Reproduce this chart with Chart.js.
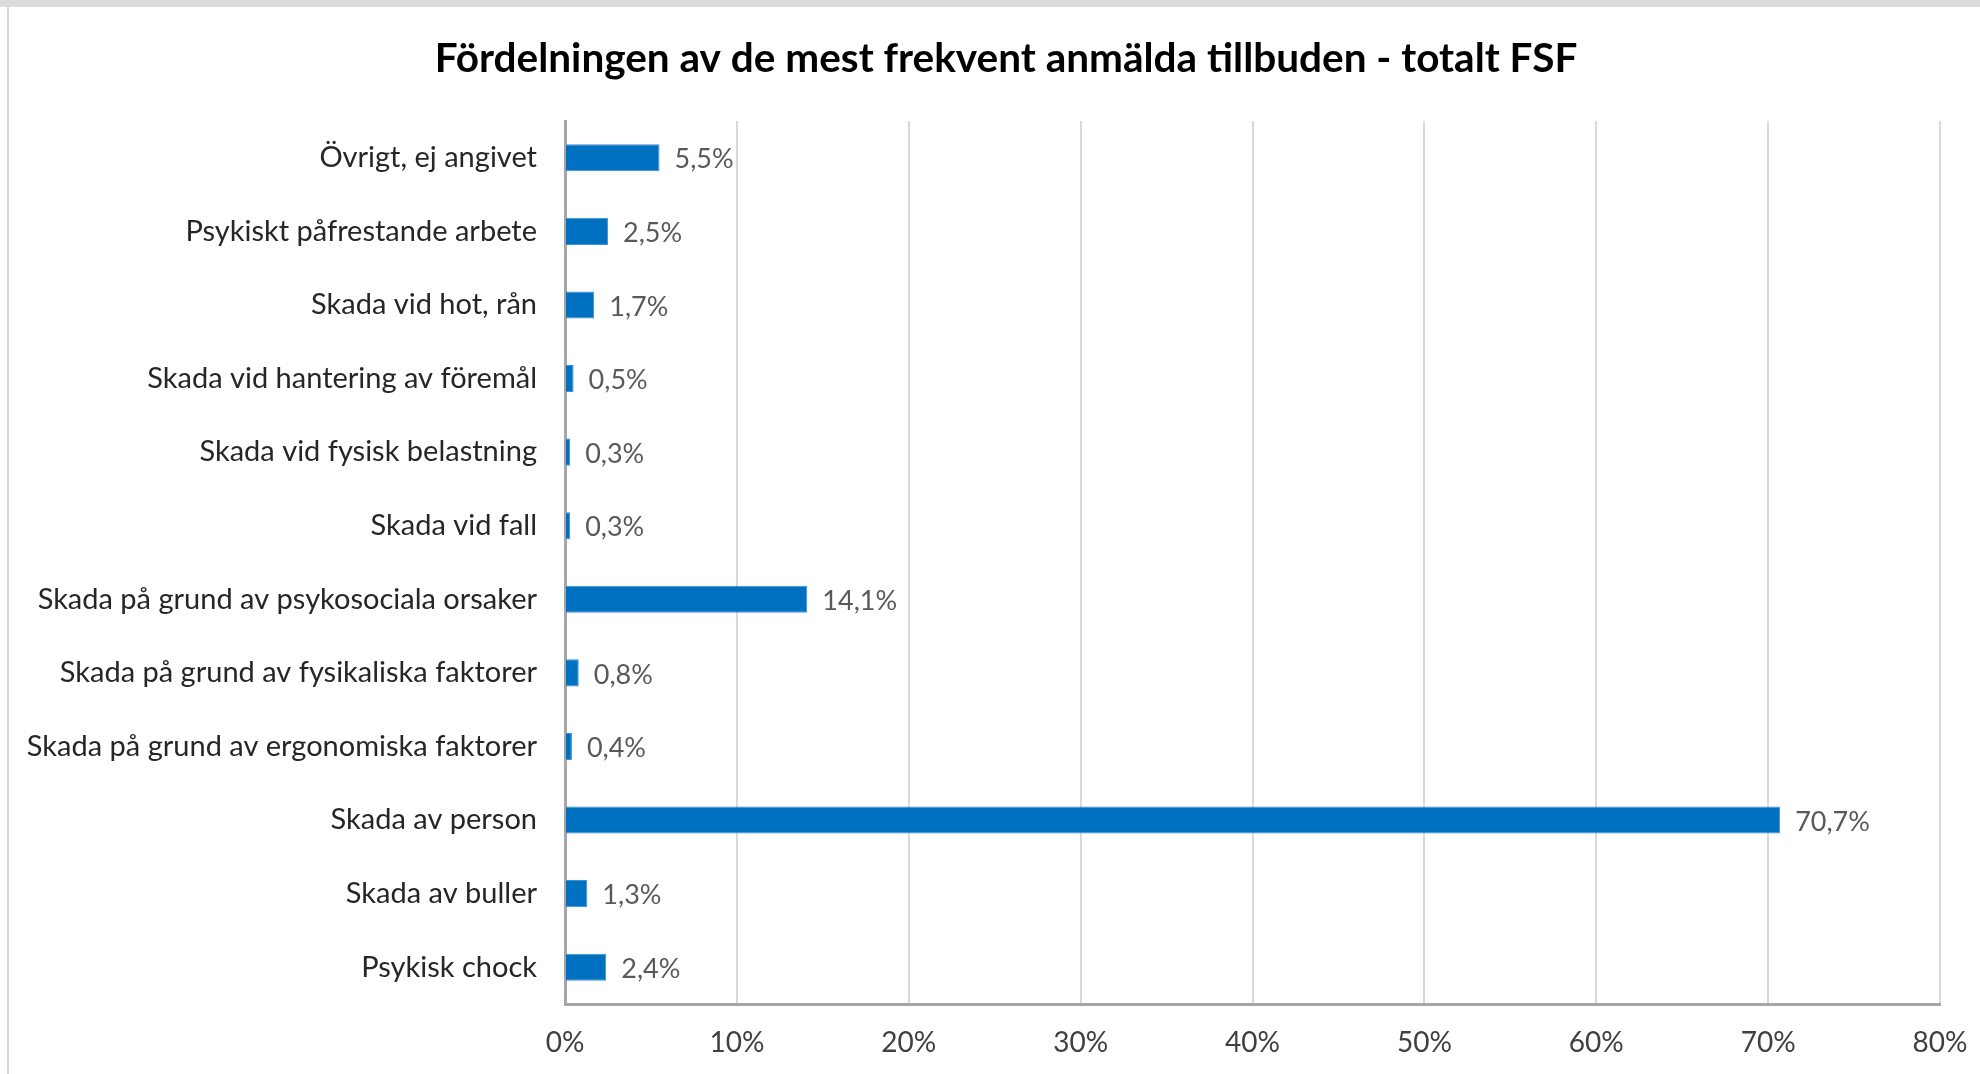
<!DOCTYPE html>
<html><head><meta charset="utf-8">
<script src="https://cdn.jsdelivr.net/npm/chart.js@4/dist/chart.umd.min.js"></script>
<style>html,body{margin:0;padding:0;background:#fff;overflow:hidden}</style>
</head><body>
<canvas id="c" width="1980" height="1074"></canvas>
<script>
const chartTitle = "Fördelningen av de mest frekvent anmälda tillbuden - totalt FSF";
const categories = [
  "Övrigt, ej angivet",
  "Psykiskt påfrestande arbete",
  "Skada vid hot, rån",
  "Skada vid hantering av föremål",
  "Skada vid fysisk belastning",
  "Skada vid fall",
  "Skada på grund av psykosociala orsaker",
  "Skada på grund av fysikaliska faktorer",
  "Skada på grund av ergonomiska faktorer",
  "Skada av person",
  "Skada av buller",
  "Psykisk chock"
];
const values = [5.5, 2.5, 1.7, 0.5, 0.3, 0.3, 14.1, 0.8, 0.4, 70.7, 1.3, 2.4];
const xMin = 0, xMax = 80, xStep = 10;

const FONT = "Lato, 'Open Sans', 'Liberation Sans', sans-serif";

const framePlugin = {
  id: 'frame',
  beforeDraw(chart) {
    const ctx = chart.ctx;
    ctx.save();
    ctx.fillStyle = '#ffffff';
    ctx.fillRect(0, 0, chart.width, chart.height);
    ctx.fillStyle = '#dcdcdc';
    ctx.fillRect(0, 0, chart.width, 7);
    ctx.strokeStyle = '#d9d9d9';
    ctx.lineWidth = 2;
    ctx.beginPath();
    ctx.moveTo(8, 7);
    ctx.lineTo(8, chart.height);
    ctx.stroke();
    // title
    ctx.fillStyle = '#000000';
    ctx.font = "bold 40.5px " + FONT;
    ctx.textAlign = 'center';
    ctx.textBaseline = 'middle';
    ctx.fillText(chartTitle, 1006, 59);
    ctx.restore();
  }
};

const valueLabels = {
  id: 'valueLabels',
  afterDatasetsDraw(chart) {
    const ctx = chart.ctx;
    ctx.save();
    ctx.font = "27px " + FONT;
    ctx.fillStyle = '#595959';
    ctx.textAlign = 'left';
    ctx.textBaseline = 'middle';
    chart.getDatasetMeta(0).data.forEach((bar, i) => {
      const v = chart.data.datasets[0].data[i];
      ctx.fillText(v.toFixed(1).replace('.', ',') + '%', bar.x + 15, bar.y + 2);
    });
    ctx.restore();
  }
};

new Chart(document.getElementById('c'), {
  type: 'bar',
  data: {
    labels: categories,
    datasets: [{
      data: values,
      backgroundColor: '#0070C0',
      borderColor: '#3d8fd1',
      borderWidth: 1,
      barPercentage: 0.367,
      categoryPercentage: 1.0
    }]
  },
  plugins: [framePlugin, valueLabels],
  options: {
    indexAxis: 'y',
    responsive: false,
    animation: false,
    devicePixelRatio: 1,
    layout: { padding: { left: 0, right: 40, top: 121, bottom: 0 } },
    plugins: {
      legend: { display: false },
      tooltip: { enabled: false },
      title: { display: false }
    },
    scales: {
      x: {
        min: xMin, max: xMax,
        ticks: {
          stepSize: xStep,
          callback: v => v + '%',
          color: '#404040',
          font: { family: FONT, size: 28 },
          padding: 22
        },
        grid: { color: '#d9d9d9', lineWidth: 2, drawTicks: false },
        border: { display: true, color: '#a6a6a6', width: 3 },
        afterFit(scale) { scale.height = 70; scale.paddingRight = 0; scale.paddingLeft = 0; }
      },
      y: {
        ticks: {
          color: '#262626',
          font: { family: FONT, size: 29 },
          padding: 28,
          autoSkip: false
        },
        grid: { display: false, drawTicks: false },
        border: { display: true, color: '#a6a6a6', width: 3 },
        afterFit(scale) { scale.width = 565; scale.paddingTop = 0; scale.paddingBottom = 0; }
      }
    }
  }
});
</script>
</body></html>
